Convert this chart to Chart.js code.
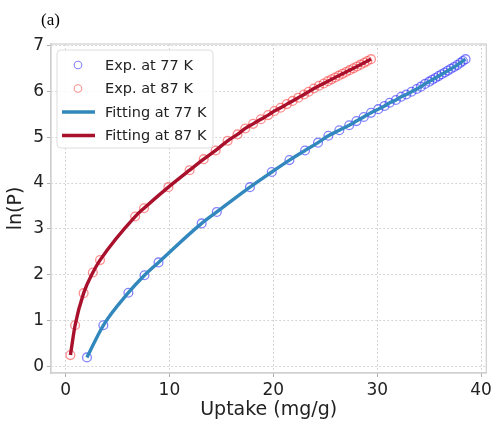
<!DOCTYPE html>
<html>
<head>
<meta charset="utf-8">
<script src="https://cdn.jsdelivr.net/npm/chart.js@4"></script>
<style>
  html, body { margin: 0; padding: 0; background: #fff; }
  #wrap { width: 495px; height: 425px; }
</style>
</head>
<body>
<div id="wrap"><canvas id="iso"></canvas></div>
<script>
// uptake (mg/g) vs ln(P) at the two temperatures
const uptake77 = [2.06, 3.64, 6.05, 7.6, 8.95, 13.1, 14.56, 17.75, 19.85, 21.55, 23.05, 24.3, 25.3, 26.35,
    27.3, 28.0, 28.7, 29.4, 30.1, 30.7, 31.2, 31.8, 32.3, 32.8, 33.3, 33.8, 34.2, 34.6, 35.0, 35.3, 35.6,
    35.9, 36.2, 36.5, 36.8, 37.1, 37.4, 37.7, 38.0, 38.25, 38.5];
const lnP77 = [0.20, 0.90, 1.61, 1.99, 2.27, 3.12, 3.37, 3.91, 4.24, 4.50, 4.71, 4.88, 5.03, 5.15,
    5.26, 5.35, 5.44, 5.53, 5.61, 5.68, 5.75, 5.81, 5.88, 5.93, 5.99, 6.05, 6.10, 6.16, 6.21, 6.25, 6.29,
    6.33, 6.37, 6.41, 6.45, 6.49, 6.53, 6.57, 6.62, 6.66, 6.70];

const uptake87 = [0.47, 0.92, 1.74, 2.63, 3.32, 6.7, 7.55, 9.9, 11.94, 13.3, 14.45, 15.6, 16.55, 17.3,
    18.05, 18.8, 19.5, 20.1, 20.7, 21.3, 21.85, 22.4, 22.95, 23.4, 23.9, 24.4, 24.85, 25.25, 25.6, 25.95,
    26.3, 26.65, 27.0, 27.35, 27.7, 28.05, 28.4, 28.75, 29.05, 29.4];
const lnP87 = [0.25, 0.90, 1.60, 2.05, 2.32, 3.27, 3.45, 3.91, 4.28, 4.52, 4.71, 4.92, 5.06, 5.19,
    5.29, 5.39, 5.48, 5.57, 5.64, 5.72, 5.79, 5.86, 5.93, 5.99, 6.06, 6.12, 6.17, 6.22, 6.26, 6.30,
    6.34, 6.38, 6.42, 6.46, 6.50, 6.54, 6.58, 6.62, 6.66, 6.70];

const xTicks = [0, 10, 20, 30, 40];
const yTicks = [0, 1, 2, 3, 4, 5, 6, 7];
const labels = ['Exp. at 77 K', 'Exp. at 87 K', 'Fitting at 77 K', 'Fitting at 87 K'];

const pts = (xs, ys) => xs.map((x, i) => ({ x: x, y: ys[i] }));
const FONT = "'DejaVu Sans', sans-serif";

// legend drawn inside the plot, top-left
const innerLegend = {
    id: 'innerLegend',
    afterDraw(chart) {
        const ctx = chart.ctx;
        const a = chart.chartArea;
        const x0 = a.left + 6, y0 = a.top + 6, w = 156, h = 98;
        ctx.save();
        ctx.beginPath();
        ctx.roundRect(x0, y0, w, h, 4);
        ctx.fillStyle = 'rgba(255,255,255,0.85)';
        ctx.fill();
        ctx.strokeStyle = '#dddddd';
        ctx.lineWidth = 1;
        ctx.stroke();
        ctx.font = '14.5px ' + FONT;
        ctx.textBaseline = 'middle';
        chart.data.datasets.forEach((ds, i) => {
            const cy = y0 + 15 + i * 23.5;
            if (ds.showLine === false) {
                ctx.beginPath();
                ctx.arc(x0 + 21, cy, 3.8, 0, Math.PI * 2);
                ctx.strokeStyle = ds.borderColor;
                ctx.lineWidth = 1.1;
                ctx.stroke();
            } else {
                ctx.beginPath();
                ctx.moveTo(x0 + 5, cy);
                ctx.lineTo(x0 + 38, cy);
                ctx.strokeStyle = ds.borderColor;
                ctx.lineWidth = 3.5;
                ctx.stroke();
            }
            ctx.fillStyle = '#222';
            ctx.fillText(ds.label, x0 + 48, cy + 1);
        });
        ctx.restore();
    }
};

// frame around plot + panel tag
const frame = {
    id: 'frame',
    beforeDatasetsDraw(chart) {
        const a = chart.chartArea;
        const ctx = chart.ctx;
        ctx.save();
        ctx.strokeStyle = '#cfcfcf';
        ctx.lineWidth = 1.2;
        ctx.strokeRect(a.left, a.top, a.right - a.left, a.bottom - a.top);
        ctx.restore();
    },
    afterDraw(chart) {
        const ctx = chart.ctx;
        ctx.save();
        ctx.font = "17px 'Liberation Serif', serif";
        ctx.fillStyle = '#000';
        ctx.textBaseline = 'alphabetic';
        ctx.fillText('(a)', 41, 25);
        ctx.restore();
    }
};

const axisCommon = {
    type: 'linear',
    grid: { color: '#cccccc', lineWidth: 0.8, tickLength: 4, tickColor: '#999', drawOnChartArea: true },
    border: { color: '#cfcfcf', dash: [2, 2], width: 1.2 },
    ticks: { color: '#222', font: { family: FONT, size: 17 }, padding: 3 }
};

new Chart(document.getElementById('iso'), {
    type: 'scatter',
    data: {
        datasets: [
            {
                label: labels[0], data: pts(uptake77, lnP77), showLine: false,
                pointRadius: 4.4, pointBorderWidth: 1.3, pointBackgroundColor: 'rgba(0,0,0,0)',
                borderColor: 'rgba(30,30,255,0.55)', pointBorderColor: 'rgba(30,30,255,0.55)', order: 4
            },
            {
                label: labels[1], data: pts(uptake87, lnP87), showLine: false,
                pointRadius: 4.4, pointBorderWidth: 1.3, pointBackgroundColor: 'rgba(0,0,0,0)',
                borderColor: 'rgba(255,30,30,0.5)', pointBorderColor: 'rgba(255,30,30,0.5)', order: 3
            },
            {
                label: labels[2], data: pts(uptake77, lnP77), showLine: true, pointRadius: 0,
                borderColor: '#3288bd', borderWidth: 3.4, cubicInterpolationMode: 'monotone', order: 2
            },
            {
                label: labels[3], data: pts(uptake87, lnP87), showLine: true, pointRadius: 0,
                borderColor: '#a8102c', borderWidth: 3.4, cubicInterpolationMode: 'monotone', order: 1
            }
        ]
    },
    options: {
        responsive: true,
        maintainAspectRatio: false,
        animation: false,
        layout: { padding: { top: 44, right: 4, left: 0, bottom: 0 } },
        plugins: { legend: { display: false }, tooltip: { enabled: false } },
        scales: {
            x: Object.assign({}, axisCommon, {
                min: -1.4, max: 40.5,
                afterBuildTicks: s => { s.ticks = xTicks.map(v => ({ value: v })); },
                afterFit: s => { s.height = 52; },
                title: { display: true, text: 'Uptake (mg/g)', color: '#222', font: { family: FONT, size: 19 }, padding: { top: 0 } }
            }),
            y: Object.assign({}, axisCommon, {
                min: -0.14, max: 7.03,
                afterBuildTicks: s => { s.ticks = yTicks.map(v => ({ value: v })); },
                afterFit: s => { s.width = 51; },
                title: { display: true, text: 'ln(P)', color: '#222', font: { family: FONT, size: 19 }, padding: { top: 5, bottom: 0 } }
            })
        }
    },
    plugins: [frame, innerLegend]
});
</script>
</body>
</html>
